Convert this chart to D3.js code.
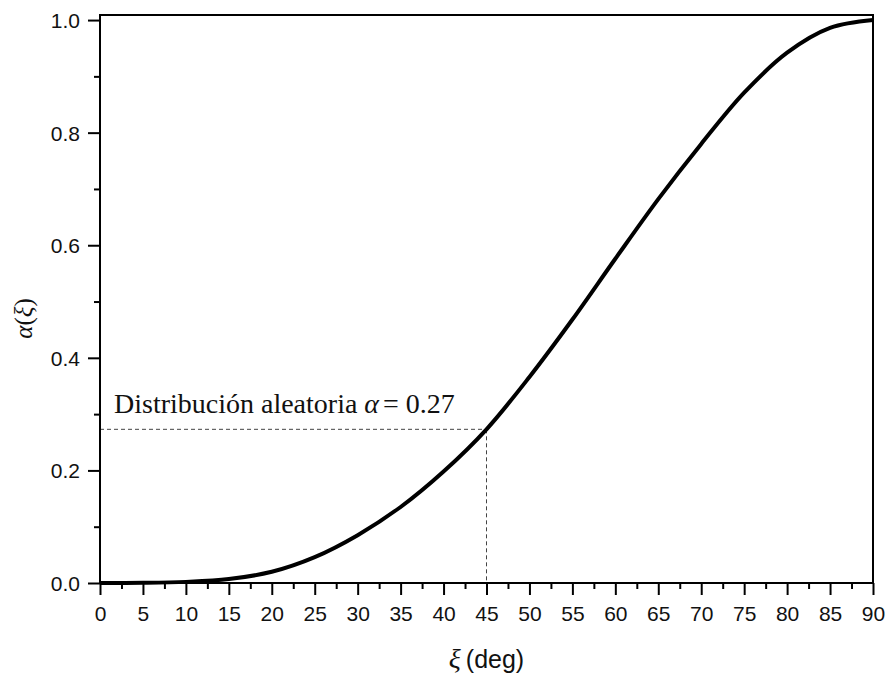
<!DOCTYPE html>
<html>
<head>
<meta charset="UTF-8">
<script src="https://d3js.org/d3.v7.min.js"></script>
<style>
  body { margin: 0; background: #fff; }
  .tick text { font-family: "Liberation Sans", Arial, sans-serif; font-size: 21px; fill: #111; }
  .serif { font-family: "Liberation Serif", "Times New Roman", serif; }
  .sans { font-family: "Liberation Sans", Arial, sans-serif; }
</style>
</head>
<body>
<svg width="889" height="677"></svg>
<script>
// values
const xiDeg = [0, 5, 10, 15, 20, 25, 30, 35, 40, 45, 50, 55, 60, 65, 70, 75, 80, 85, 90];
const alphaVals = [0, 0.0003, 0.002, 0.007, 0.02, 0.046, 0.085, 0.135, 0.198, 0.273, 0.366, 0.468, 0.576, 0.682, 0.780, 0.871, 0.942, 0.986, 1.0];
const xTicks = d3.range(0, 91, 5);
const xMinor = d3.range(2.5, 90, 5);
const yTicks = [0, 0.2, 0.4, 0.6, 0.8, 1.0];
const yMinor = [0.1, 0.3, 0.5, 0.7, 0.9];
const markXi = 45, markAlpha = 0.273;

const svg = d3.select("svg");
const plotL = 100, plotR = 873, plotT = 15, plotB = 583;

const x = d3.scaleLinear().domain([0, 90]).range([plotL, plotR]);
const y = d3.scaleLinear().domain([0, 1.009]).range([plotB, plotT]);

// minor ticks
svg.append("g")
  .attr("transform", `translate(0,${plotB})`)
  .call(d3.axisBottom(x).tickValues(xMinor).tickSize(6).tickFormat(""))
  .call(g => g.select(".domain").remove())
  .call(g => g.selectAll("line").attr("stroke", "#000").attr("stroke-width", 2));
svg.append("g")
  .attr("transform", `translate(${plotL},0)`)
  .call(d3.axisLeft(y).tickValues(yMinor).tickSize(6).tickFormat(""))
  .call(g => g.select(".domain").remove())
  .call(g => g.selectAll("line").attr("stroke", "#000").attr("stroke-width", 2));

// major ticks
svg.append("g")
  .attr("transform", `translate(0,${plotB})`)
  .call(d3.axisBottom(x).tickValues(xTicks).tickSize(12).tickPadding(11).tickFormat(d3.format("d")))
  .call(g => g.select(".domain").remove())
  .call(g => g.selectAll("line").attr("stroke", "#000").attr("stroke-width", 2));
svg.append("g")
  .attr("transform", `translate(${plotL},0)`)
  .call(d3.axisLeft(y).tickValues(yTicks).tickSize(12).tickPadding(8).tickFormat(d3.format(".1f")))
  .call(g => g.select(".domain").remove())
  .call(g => g.selectAll("line").attr("stroke", "#000").attr("stroke-width", 2))
  .call(g => g.selectAll("text").attr("dy", "0.35em"));

// dashed guide lines
svg.append("line")
  .attr("x1", plotL).attr("x2", x(markXi))
  .attr("y1", y(markAlpha)).attr("y2", y(markAlpha))
  .attr("stroke", "#444").attr("stroke-width", 1).attr("stroke-dasharray", "4,3");
svg.append("line")
  .attr("x1", x(markXi)).attr("x2", x(markXi))
  .attr("y1", y(markAlpha)).attr("y2", plotB)
  .attr("stroke", "#444").attr("stroke-width", 1).attr("stroke-dasharray", "4,3");

// curve
const line = d3.line()
  .x((d, i) => x(xiDeg[i]))
  .y(d => y(d))
  .curve(d3.curveCatmullRom.alpha(0.5));
svg.append("path")
  .datum(alphaVals)
  .attr("d", line)
  .attr("fill", "none")
  .attr("stroke", "#000")
  .attr("stroke-width", 4);

// frame
svg.append("rect")
  .attr("x", plotL).attr("y", plotT)
  .attr("width", plotR - plotL).attr("height", plotB - plotT)
  .attr("fill", "none").attr("stroke", "#000").attr("stroke-width", 2);

// annotation
const note = svg.append("text")
  .attr("class", "serif")
  .attr("x", 114).attr("y", 413)
  .attr("font-size", 28).attr("fill", "#111");
note.append("tspan").text("Distribución aleatoria ");
note.append("tspan").attr("font-style", "italic").text("α");
note.append("tspan").attr("dx", 4).text("= 0.27");

// axis titles
const xt = svg.append("text")
  .attr("x", x(45)).attr("y", 668)
  .attr("text-anchor", "middle").attr("fill", "#111");
xt.append("tspan").attr("class", "serif").attr("font-style", "italic").attr("font-size", 28).text("ξ");
xt.append("tspan").attr("class", "sans").attr("font-size", 25).attr("dx", 5).text("(deg)");

const yt = svg.append("text")
  .attr("transform", `translate(32,${y(0.47)}) rotate(-90)`)
  .attr("text-anchor", "middle").attr("fill", "#111")
  .attr("class", "serif").attr("font-style", "italic").attr("font-size", 25);
yt.append("tspan").text("α");
yt.append("tspan").attr("font-style", "normal").text("(");
yt.append("tspan").text("ξ");
yt.append("tspan").attr("font-style", "normal").text(")");
</script>
</body>
</html>
